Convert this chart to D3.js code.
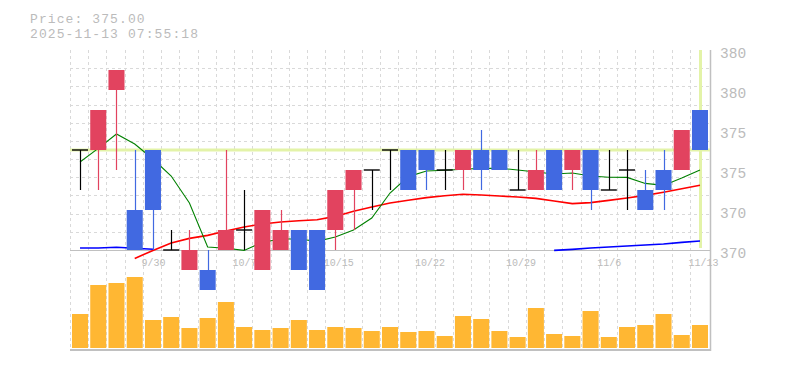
<!DOCTYPE html>
<html>
<head>
<meta charset="utf-8">
<script src="https://cdn.jsdelivr.net/npm/d3@7"></script>
<style>
body{margin:0;background:#fff;}
svg{display:block;font-family:"Liberation Mono",monospace;}
</style>
</head>
<body>
<svg id="chart" width="785" height="370"></svg>
<script>
// daily candles, oldest first
const dates=["9/24","9/25","9/26","9/29","9/30","10/1","10/2","10/3","10/6","10/7","10/8","10/9","10/10","10/14","10/15","10/16","10/17","10/20","10/21","10/22","10/23","10/24","10/27","10/28","10/29","10/30","10/31","11/4","11/5","11/6","11/7","11/10","11/11","11/12","11/13"];
const open =[375,375,378,372,375,370,369,369,370,371,369,370,371,371,371,373,374,375,375,375,374,374,375,375,373,373,375,374,375,373,374,373,374,374,377];
const high =[375,377,379,375,375,371,371,370,375,373,372,372,371,371,373,374,374,375,375,375,375,375,376,375,375,375,375,375,375,375,375,374,375,376,377];
const low  =[373,373,374,370,370,370,369,368,370,370,369,370,369,368,370,371,372,373,373,373,373,373,373,374,373,373,373,373,372,373,372,372,372,374,375];
const close=[375,377,379,370,372,370,370,368,371,371,372,371,369,368,373,374,374,375,373,374,374,375,374,374,373,374,373,375,373,373,374,372,373,376,375];
const volume=[34,63,65,71,28,31,20,30,46,21,18,20,28,18,21,20,17,21,16,17,12,32,29,17,11,40,14,12,37,11,21,23,34,13,23];

const ma5=[374.4,375.08,375.8,375.3,374.55,373.7,372.35,370.15,370.09,369.98,370.38,370.55,370.55,370.43,370.65,371.0,371.6,372.85,373.67,373.95,373.99,374.04,374.08,374.09,374.0,373.9,373.8,373.85,373.7,373.64,373.63,373.33,373.23,373.6,374.0];
const ma25=[null,null,null,369.58,369.98,370.35,370.58,370.73,370.95,371.15,371.3,371.4,371.46,371.51,371.68,371.94,372.15,372.35,372.49,372.62,372.71,372.79,372.75,372.7,372.65,372.58,372.45,372.32,372.37,372.48,372.6,372.73,372.89,373.06,373.24];
const ma75=[370.1,370.1,370.14,370.09,370.04,null,null,null,null,null,null,null,null,null,null,null,null,null,null,null,null,null,null,null,null,null,369.98,370.03,370.1,370.15,370.2,370.25,370.3,370.38,370.45];

const yTicks=[380,378,376,374,372,370];
const yTickLabels=["380","380","375","375","370","370"];
const xTickLabels=["9/30","10/7","10/15","10/22","10/29","11/6","11/13"];
const lastPrice=375;
const stamp="2025-11-13 07:55:18";

const svg=d3.select("#chart");
const L=70,R=710,T=50,PB=250,VB=348;

const x=d3.scaleBand().domain(dates).range([L,708.2]);
const bw=x.bandwidth()-2.2;
const cx=d=>x(d)+2+bw/2;
const y=d3.scaleLinear().domain([370,380]).range([PB,T]);
const yv=d3.scaleLinear().domain([0,98]).range([VB,PB]);

const rows=dates.map((d,i)=>({date:d,o:open[i],h:high[i],l:low[i],c:close[i],v:volume[i]}));
const up="#e2435f",down="#4169e1";
const col=d=>d.c>d.o?up:d.c<d.o?down:"#000";

// grid
const grid=svg.append("g").attr("stroke","#d9d9d9").attr("stroke-dasharray","3,3");
grid.selectAll(".vg").data(dates).join("line")
  .attr("x1",d=>Math.round(x(d))+0.5).attr("x2",d=>Math.round(x(d))+0.5)
  .attr("y1",T).attr("y2",350);
grid.selectAll(".hg").data(d3.range(11).map(k=>370+k*10/11)).join("line")
  .attr("x1",L).attr("x2",R)
  .attr("y1",d=>Math.round(y(d))+0.5).attr("y2",d=>Math.round(y(d))+0.5);

// frame
svg.append("line").attr("x1",L).attr("x2",R).attr("y1",250.5).attr("y2",250.5).attr("stroke","#c0c0c0");
svg.append("line").attr("x1",L).attr("x2",R+1).attr("y1",350).attr("y2",350).attr("stroke","#c0c0c0").attr("stroke-width",2);
svg.append("line").attr("x1",R+0.5).attr("x2",R+0.5).attr("y1",T).attr("y2",351).attr("stroke","#c0c0c0").attr("stroke-width",1.5);

// date labels
svg.append("g").selectAll("text").data(xTickLabels).join("text")
  .attr("x",d=>x(d)-1.5).attr("y",266)
  .attr("font-size","10px").attr("fill","#bbb")
  .text(d=>d);

// last price marker
const last=rows[rows.length-1];
svg.append("line").attr("x1",L).attr("x2",R).attr("y1",y(lastPrice)).attr("y2",y(lastPrice))
  .attr("stroke","#e3f3a8").attr("stroke-width",3);
svg.append("line").attr("x1",cx(last.date)+0.5).attr("x2",cx(last.date)+0.5).attr("y1",T).attr("y2",248)
  .attr("stroke","#e3f3a8").attr("stroke-width",3);

// volume
svg.append("g").selectAll("rect").data(rows).join("rect")
  .attr("x",d=>x(d.date)+2).attr("width",bw)
  .attr("y",d=>yv(d.v)).attr("height",d=>VB-yv(d.v))
  .attr("fill","#ffb733");

// moving averages
const line=d3.line().defined(v=>v!=null).x((v,i)=>cx(dates[i])).y(v=>y(v));
[[ma75,"#0000ff",1.6],[ma25,"#ff0000",1.6],[ma5,"#008000",1.1]].forEach(([s,c,w])=>{
  svg.append("path").datum(s).attr("d",line).attr("fill","none").attr("stroke",c).attr("stroke-width",w);
});

// candles
const cg=svg.append("g");
cg.selectAll(".wick").data(rows).join("line")
  .attr("x1",d=>Math.round(cx(d.date))+0.5).attr("x2",d=>Math.round(cx(d.date))+0.5)
  .attr("y1",d=>y(d.h)).attr("y2",d=>y(d.l))
  .attr("stroke",col).attr("stroke-width",1.2);
cg.selectAll(".body").data(rows.filter(d=>d.o!==d.c)).join("rect")
  .attr("x",d=>x(d.date)+2).attr("width",bw)
  .attr("y",d=>y(Math.max(d.o,d.c))).attr("height",d=>Math.abs(y(d.o)-y(d.c)))
  .attr("fill",col);
cg.selectAll(".doji").data(rows.filter(d=>d.o===d.c)).join("line")
  .attr("x1",d=>x(d.date)+2).attr("x2",d=>x(d.date)+2+bw)
  .attr("y1",d=>y(d.c)).attr("y2",d=>y(d.c))
  .attr("stroke","#000").attr("stroke-width",1.4);

// price labels
svg.append("g").selectAll("text").data(yTicks).join("text")
  .attr("x",720).attr("y",d=>y(d)+8.3)
  .attr("font-size","14.5px").attr("fill","#bbb")
  .text((d,i)=>yTickLabels[i]);

// header
const head=svg.append("g").attr("font-size","13px").attr("letter-spacing","1.1px").attr("fill","#bbb");
head.append("text").attr("x",30).attr("y",23).text("Price: "+lastPrice.toFixed(2));
head.append("text").attr("x",30).attr("y",37.5).text(stamp);
</script>
</body>
</html>
